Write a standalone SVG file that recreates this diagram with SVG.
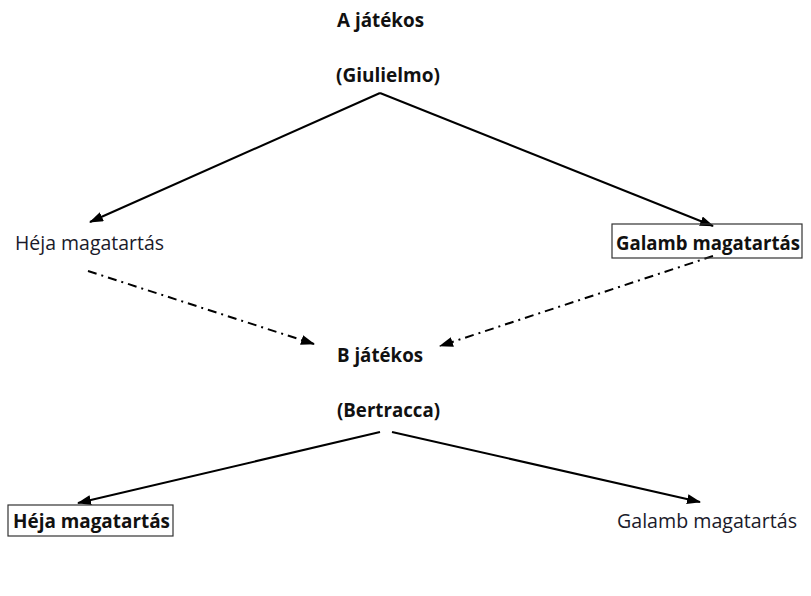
<svg xmlns="http://www.w3.org/2000/svg" width="811" height="596" viewBox="0 0 811 596">
<style>
text{font-family:"Open Sans","Liberation Sans",sans-serif;font-size:19.5px;fill:#1a1a2a}
.b{font-weight:bold;fill:#111}
.box{fill:none;stroke:#333;stroke-width:1.2}
.c{stroke:#000;stroke-width:2;fill:none}
.d{stroke-dasharray:9 5 2 5}
</style>
<defs>
<marker id="ah" viewBox="0 0 14 10" refX="13" refY="5" markerWidth="14" markerHeight="10" markerUnits="userSpaceOnUse" orient="auto">
<path d="M0,0 L14,5 L0,10 Z" fill="#000"/>
</marker>
</defs>
<rect width="811" height="596" fill="#fff"/>
<g id="connectors">
<line class="c" x1="380" y1="93" x2="90" y2="222" marker-end="url(#ah)"/>
<line class="c" x1="380" y1="93" x2="713" y2="226" marker-end="url(#ah)"/>
<line class="c d" x1="88" y1="271" x2="314" y2="344" marker-end="url(#ah)"/>
<line class="c d" x1="713" y1="256" x2="440" y2="346" marker-end="url(#ah)"/>
<line class="c" x1="380" y1="432" x2="78" y2="503" marker-end="url(#ah)"/>
<line class="c" x1="392" y1="432" x2="700" y2="502" marker-end="url(#ah)"/>
</g>
<g id="playerA">
<text class="b" x="337" y="27" textLength="87" lengthAdjust="spacingAndGlyphs">A játékos</text>
<text class="b" x="336" y="82" textLength="104" lengthAdjust="spacingAndGlyphs">(Giulielmo)</text>
</g>
<g id="hejaA">
<text x="15" y="250" textLength="149" lengthAdjust="spacingAndGlyphs">Héja magatartás</text>
</g>
<g id="galambA">
<rect class="box" x="612" y="224" width="190" height="34"/>
<text class="b" x="616" y="250" textLength="184" lengthAdjust="spacingAndGlyphs">Galamb magatartás</text>
</g>
<g id="playerB">
<text class="b" x="337" y="362" textLength="86" lengthAdjust="spacingAndGlyphs">B játékos</text>
<text class="b" x="337" y="417" textLength="103" lengthAdjust="spacingAndGlyphs">(Bertracca)</text>
</g>
<g id="hejaB">
<rect class="box" x="8" y="505" width="165" height="31"/>
<text class="b" x="13" y="528" textLength="157" lengthAdjust="spacingAndGlyphs">Héja magatartás</text>
</g>
<g id="galambB">
<text x="617" y="528" textLength="180" lengthAdjust="spacingAndGlyphs">Galamb magatartás</text>
</g>
</svg>
